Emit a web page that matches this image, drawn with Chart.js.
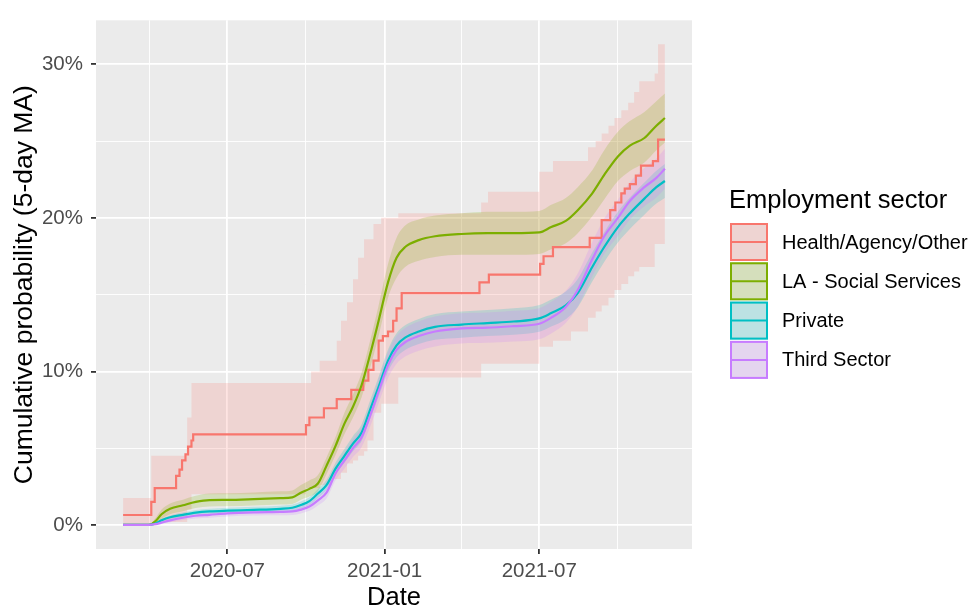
<!DOCTYPE html>
<html>
<head>
<meta charset="utf-8">
<script src="https://cdn.jsdelivr.net/npm/chart.js@4.4.1/dist/chart.umd.min.js"></script>
<style>
  html, body { margin: 0; padding: 0; background: #fff; }
</style>
</head>
<body>
<canvas id="sectorChart" width="970" height="607"></canvas>
<script>
// Sectors and ggplot hue colours
var sectors = ['Health/Agency/Other', 'LA - Social Services', 'Private', 'Third Sector'];
var colours = ['#F8766D', '#7CAE00', '#00BFC4', '#C77CFF'];
var fills = ['rgba(248,118,109,0.2)', 'rgba(124,174,0,0.2)', 'rgba(0,191,196,0.2)', 'rgba(199,124,255,0.2)'];

var legendTitle = 'Employment sector';
var xTitle = 'Date';
var yTitle = 'Cumulative probability (5-day MA)';

// Axis ticks
var xMajorDates = ['2020-07-01', '2021-01-01', '2021-07-01'];
var xTickLabels = ['2020-07', '2021-01', '2021-07'];
var xMinorDates = ['2020-04-01', '2020-10-01', '2021-04-01', '2021-10-01'];
var yMajor = [0, 10, 20, 30];
var yTickLabels = ['0%', '10%', '20%', '30%'];
var yMinor = [5, 15, 25];

// Health/Agency/Other: step series (value starts on each date)
var hlthDates = ['2020-03-01', '2020-04-03', '2020-04-07', '2020-05-02', '2020-05-06', '2020-05-09', '2020-05-13',
  '2020-05-16', '2020-05-20', '2020-05-22', '2020-10-01', '2020-10-05', '2020-10-22', '2020-11-06', '2020-11-23',
  '2020-12-07', '2020-12-13', '2020-12-19', '2020-12-25', '2020-12-30', '2021-01-05', '2021-01-11', '2021-01-15',
  '2021-01-21', '2021-04-22', '2021-05-03', '2021-07-02', '2021-07-06', '2021-07-17', '2021-08-29', '2021-09-12',
  '2021-09-22', '2021-09-28', '2021-10-05', '2021-10-09', '2021-10-15', '2021-10-22', '2021-10-28', '2021-11-11',
  '2021-11-17', '2021-11-25'];
var hlthProb = [0.65, 1.5, 2.4, 3.2, 3.6, 4.2, 4.6, 5.1, 5.5, 5.9, 6.5, 7.0, 7.6, 8.2, 8.8, 9.4, 10.1, 10.7, 12.0,
  12.3, 12.6, 13.3, 14.1, 15.1, 15.8, 16.3, 17.0, 17.5, 18.1, 18.7, 19.85, 20.5, 21.0, 21.6, 21.9, 22.2, 22.75, 23.4,
  23.7, 25.1, 25.1];

var hlthBandDates = ['2020-03-01', '2020-04-03', '2020-05-15', '2020-05-20', '2020-10-01', '2020-10-07', '2020-10-17',
  '2020-10-31', '2020-11-06', '2020-11-11', '2020-11-18', '2020-11-25', '2020-12-01', '2020-12-08', '2020-12-12',
  '2020-12-19', '2020-12-28', '2021-01-17', '2021-04-24', '2021-05-02', '2021-07-01', '2021-07-17', '2021-08-07',
  '2021-08-27', '2021-09-05', '2021-09-12', '2021-09-20', '2021-09-27', '2021-10-05', '2021-10-13', '2021-10-20',
  '2021-10-26', '2021-11-13', '2021-11-17', '2021-11-25'];
var hlthUpper = [1.75, 4.5, 7.0, 9.25, 9.25, 10.0, 10.7, 10.7, 12.0, 13.3, 14.5, 16.0, 17.4, 18.6, 18.6, 19.6, 20.0,
  20.3, 21.0, 21.7, 23.0, 23.7, 23.7, 24.6, 25.0, 25.5, 26.0, 26.5, 27.0, 27.5, 28.2, 28.9, 29.4, 31.3, 31.3];
var hlthLower = [0, 0.2, 1.0, 2.0, 2.4, 2.4, 2.6, 3.0, 3.0, 3.4, 4.0, 4.2, 4.5, 4.8, 5.5, 7.3, 7.9, 9.6, 10.5, 10.5,
  11.6, 12.0, 12.6, 13.5, 13.9, 14.3, 14.8, 15.3, 15.7, 16.2, 16.5, 16.8, 18.3, 18.3, 18.3];

// the other three sectors share one date grid
var gridDates = ['2020-03-01', '2020-03-31', '2020-04-08', '2020-04-15', '2020-04-25', '2020-05-10', '2020-05-25',
  '2020-06-10', '2020-07-01', '2020-08-01', '2020-09-01', '2020-09-15', '2020-09-25', '2020-10-05', '2020-10-15',
  '2020-10-25', '2020-11-05', '2020-11-15', '2020-11-25', '2020-12-05', '2020-12-15', '2020-12-25', '2021-01-05',
  '2021-01-15', '2021-01-25', '2021-02-10', '2021-03-01', '2021-04-01', '2021-05-01', '2021-06-01', '2021-07-01',
  '2021-07-15', '2021-08-01', '2021-08-15', '2021-09-01', '2021-09-15', '2021-10-01', '2021-10-15', '2021-11-01',
  '2021-11-15', '2021-11-25'];

var laProb = [0, 0, 0.25, 0.7, 1.05, 1.28, 1.5, 1.62, 1.63, 1.68, 1.75, 1.8, 2.1, 2.35, 2.7, 3.85, 5.2, 6.6, 7.7,
  9.1, 11.1, 13.3, 15.8, 17.4, 18.1, 18.55, 18.8, 18.95, 19.0, 19.0, 19.05, 19.4, 19.8, 20.5, 21.6, 22.8, 24.0,
  24.7, 25.2, 26.0, 26.5];
var laLower = [0, 0, 0.1, 0.4, 0.7, 0.9, 1.1, 1.2, 1.22, 1.27, 1.33, 1.37, 1.65, 1.85, 2.2, 3.3, 4.6, 5.9, 7.0, 8.3,
  10.2, 12.3, 14.8, 16.1, 16.8, 17.2, 17.45, 17.6, 17.6, 17.6, 17.65, 17.95, 18.35, 19.0, 20.1, 21.2, 22.4, 23.05,
  23.6, 24.4, 24.9];
var laUpper = [0, 0, 0.45, 1.0, 1.4, 1.65, 1.9, 2.05, 2.07, 2.12, 2.2, 2.25, 2.6, 2.9, 3.25, 4.4, 5.8, 7.3, 8.5, 9.9,
  12.0, 14.3, 17.0, 18.7, 19.5, 19.9, 20.15, 20.3, 20.4, 20.4, 20.45, 20.85, 21.3, 22.0, 23.1, 24.4, 25.6, 26.3,
  26.9, 27.6, 28.1];

var privProb = [0, 0, 0.1, 0.3, 0.5, 0.66, 0.8, 0.88, 0.93, 0.98, 1.05, 1.12, 1.3, 1.55, 2.05, 2.6, 3.7, 4.5, 5.3,
  6.0, 7.5, 9.0, 10.7, 11.7, 12.2, 12.6, 12.9, 13.05, 13.15, 13.25, 13.45, 13.8, 14.3, 15.1, 16.8, 18.1, 19.4, 20.3,
  21.25, 22.0, 22.4];
var privLower = [0, 0, 0.05, 0.2, 0.38, 0.51, 0.63, 0.7, 0.74, 0.78, 0.85, 0.91, 1.07, 1.3, 1.75, 2.27, 3.3, 4.05,
  4.8, 5.45, 6.9, 8.35, 9.98, 10.92, 11.4, 11.78, 12.06, 12.2, 12.3, 12.39, 12.58, 12.92, 13.4, 14.18, 15.85, 17.13,
  18.4, 19.28, 20.2, 20.93, 21.3];
var privUpper = [0, 0, 0.15, 0.4, 0.62, 0.81, 0.97, 1.06, 1.12, 1.18, 1.25, 1.33, 1.53, 1.8, 2.35, 2.93, 4.1, 4.95,
  5.8, 6.55, 8.1, 9.65, 11.42, 12.48, 13.0, 13.42, 13.74, 13.9, 14.0, 14.11, 14.32, 14.68, 15.2, 16.02, 17.75, 19.07,
  20.4, 21.32, 22.3, 23.07, 23.5];

var thirdProb = [0, 0, 0.05, 0.15, 0.3, 0.47, 0.6, 0.66, 0.75, 0.82, 0.85, 0.88, 1.0, 1.2, 1.6, 2.1, 3.4, 4.2, 5.0,
  5.7, 7.1, 8.7, 10.4, 11.4, 11.9, 12.3, 12.6, 12.8, 12.85, 12.95, 13.1, 13.5, 14.2, 15.3, 17.3, 18.8, 20.0, 21.1,
  22.0, 22.6, 23.2];
var thirdLower = [0, 0, 0.01, 0.07, 0.18, 0.32, 0.42, 0.47, 0.55, 0.61, 0.63, 0.65, 0.75, 0.92, 1.27, 1.72, 2.95,
  3.68, 4.42, 5.06, 6.4, 7.93, 9.56, 10.5, 10.97, 11.35, 11.63, 11.82, 11.86, 11.95, 12.09, 12.47, 13.15, 14.22,
  16.18, 17.65, 18.82, 19.89, 20.76, 21.33, 21.9];
var thirdUpper = [0, 0, 0.09, 0.23, 0.42, 0.62, 0.78, 0.85, 0.95, 1.03, 1.07, 1.11, 1.25, 1.48, 1.93, 2.48, 3.85,
  4.72, 5.58, 6.34, 7.8, 9.47, 11.24, 12.3, 12.83, 13.25, 13.57, 13.78, 13.84, 13.95, 14.11, 14.53, 15.25, 16.38,
  18.42, 19.95, 21.18, 22.31, 23.24, 23.87, 24.5];

var FONT = "'Liberation Sans', Arial, sans-serif";
Chart.defaults.font.family = FONT;

// days since 2020-01-01
function toDay(s) { return (Date.parse(s) - Date.parse('2020-01-01')) / 864e5; }
function pts(dates, vals) {
  return dates.map(function (d, i) { return { x: toDay(d), y: vals[i] }; });
}

var xMajor = xMajorDates.map(toDay);
var xTicks = xMajor.concat(xMinorDates.map(toDay)).sort(function (a, b) { return a - b; });
var yTicks = yMajor.concat(yMinor).sort(function (a, b) { return a - b; });

// ggplot-like 5% expansion around the data
var allDays = hlthDates.concat(hlthBandDates, gridDates).map(toDay);
var dMin = Math.min.apply(null, allDays), dMax = Math.max.apply(null, allDays);
var vMax = Math.max.apply(null, hlthUpper.concat(laUpper, privUpper, thirdUpper));
var xPad = (dMax - dMin) * 0.05, yPad = vMax * 0.05;

var noLine = 'rgba(0,0,0,0)';
function bandPair(dates, upper, lower, i, smooth) {
  var common = { borderWidth: 0, borderColor: noLine, order: 10 - i };
  if (smooth) common.cubicInterpolationMode = 'monotone';
  else common.stepped = 'before';
  return [
    Object.assign({ label: sectors[i] + ' upper', data: pts(dates, upper), fill: '+1', backgroundColor: fills[i] }, common),
    Object.assign({ label: sectors[i] + ' lower', data: pts(dates, lower), fill: false }, common)
  ];
}
function mainLine(dates, vals, i, smooth) {
  var ds = { label: sectors[i], data: pts(dates, vals), borderColor: colours[i], borderWidth: 2.2, fill: false, order: 4 - i };
  if (smooth) ds.cubicInterpolationMode = 'monotone';
  else ds.stepped = 'before';
  return ds;
}

var datasets = []
  .concat(bandPair(hlthBandDates, hlthUpper, hlthLower, 0, false))
  .concat(bandPair(gridDates, laUpper, laLower, 1, true))
  .concat(bandPair(gridDates, privUpper, privLower, 2, true))
  .concat(bandPair(gridDates, thirdUpper, thirdLower, 3, true))
  .concat([
    mainLine(hlthDates, hlthProb, 0, false),
    mainLine(gridDates, laProb, 1, true),
    mainLine(gridDates, privProb, 2, true),
    mainLine(gridDates, thirdProb, 3, true)
  ]);

// grey panel background
var panelBg = {
  id: 'panelBg',
  beforeDraw: function (chart) {
    var a = chart.chartArea, ctx = chart.ctx;
    ctx.save();
    ctx.fillStyle = '#EBEBEB';
    ctx.fillRect(a.left, a.top, a.right - a.left, a.bottom - a.top);
    ctx.restore();
  }
};

// ggplot style legend with ribbon keys
var sectorLegend = {
  id: 'sectorLegend',
  afterDraw: function (chart) {
    var ctx = chart.ctx;
    ctx.save();
    ctx.fillStyle = '#000';
    ctx.font = '25.5px ' + FONT;
    ctx.textBaseline = 'alphabetic';
    ctx.fillText(legendTitle, 729, 208);
    ctx.font = '20px ' + FONT;
    ctx.textBaseline = 'middle';
    sectors.forEach(function (name, i) {
      var x = 730, top = 223 + i * 39.3, s = 38;
      ctx.fillStyle = '#EBEBEB';
      ctx.fillRect(x, top, s, s);
      ctx.fillStyle = fills[i];
      ctx.fillRect(x, top, s, s);
      ctx.strokeStyle = colours[i];
      ctx.lineWidth = 2;
      ctx.strokeRect(x + 1, top + 1, s - 2, s - 2);
      ctx.beginPath();
      ctx.moveTo(x + 2, top + s / 2);
      ctx.lineTo(x + s - 2, top + s / 2);
      ctx.stroke();
      ctx.fillStyle = '#000';
      ctx.fillText(name, 782, top + s / 2 + 1);
    });
    ctx.restore();
  }
};

function isMajorX(v) { return xMajor.indexOf(v) >= 0; }
function isMajorY(v) { return yMajor.indexOf(v) >= 0; }

var ctx = document.getElementById('sectorChart').getContext('2d');
var sectorChart = new Chart(ctx, {
  type: 'line',
  data: { datasets: datasets },
  options: {
    responsive: false,
    animation: false,
    events: [],
    layout: { padding: { top: 15, right: 278, left: 0, bottom: -4 } },
    elements: { point: { radius: 0 } },
    plugins: { legend: { display: false }, tooltip: { enabled: false } },
    scales: {
      x: {
        type: 'linear',
        min: dMin - xPad,
        max: dMax + xPad,
        afterBuildTicks: function (scale) {
          scale.ticks = xTicks.map(function (v) { return { value: v }; });
        },
        afterFit: function (scale) { scale.height = 62; },
        border: { display: false },
        grid: {
          color: '#FFFFFF',
          lineWidth: function (c) { return isMajorX(c.tick.value) ? 1.8 : 0.9; },
          tickColor: function (c) { return isMajorX(c.tick.value) ? '#333333' : noLine; },
          tickWidth: 1.8,
          tickLength: 5
        },
        ticks: {
          autoSkip: false,
          maxRotation: 0,
          padding: 5,
          color: '#4D4D4D',
          font: { size: 20.5 },
          callback: function (v) {
            var k = xMajor.indexOf(v);
            return k >= 0 ? xTickLabels[k] : '';
          }
        },
        title: {
          display: true,
          text: xTitle,
          color: '#000',
          font: { size: 25.5, lineHeight: 1 },
          padding: { top: 0, bottom: 0 }
        }
      },
      y: {
        type: 'linear',
        min: -yPad,
        max: vMax + yPad,
        afterBuildTicks: function (scale) {
          scale.ticks = yTicks.map(function (v) { return { value: v }; });
        },
        afterFit: function (scale) { scale.width = 96; },
        border: { display: false },
        grid: {
          color: '#FFFFFF',
          lineWidth: function (c) { return isMajorY(c.tick.value) ? 1.8 : 0.9; },
          tickColor: function (c) { return isMajorY(c.tick.value) ? '#333333' : noLine; },
          tickWidth: 1.8,
          tickLength: 5
        },
        ticks: {
          padding: 8,
          color: '#4D4D4D',
          font: { size: 20.5 },
          callback: function (v) {
            var k = yMajor.indexOf(v);
            return k >= 0 ? yTickLabels[k] : '';
          }
        },
        title: {
          display: true,
          text: yTitle,
          color: '#000',
          font: { size: 26.5, lineHeight: 1.2 },
          padding: { top: 8.5, bottom: 0 }
        }
      }
    }
  },
  plugins: [panelBg, sectorLegend]
});
</script>
</body>
</html>
